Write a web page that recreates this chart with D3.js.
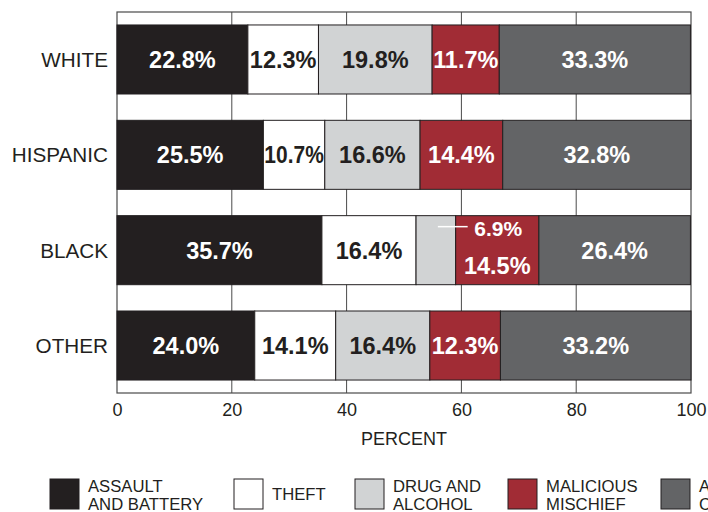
<!DOCTYPE html>
<html>
<head>
<meta charset="utf-8">
<script src="https://cdn.jsdelivr.net/npm/d3@7"></script>
<style>
  html, body { margin: 0; padding: 0; background: #fff; }
  svg { display: block; font-family: "Liberation Sans", Arial, sans-serif; }
</style>
</head>
<body>
<svg id="chart" width="708" height="512"></svg>
<script>
// ---- data ----
const groups = ["WHITE", "HISPANIC", "BLACK", "OTHER"];
const series = ["ASSAULT AND BATTERY", "THEFT", "DRUG AND ALCOHOL", "MALICIOUS MISCHIEF", "ALL OTHER CRIMES"];
const legendLines = [["ASSAULT", "AND BATTERY"], ["THEFT"], ["DRUG AND", "ALCOHOL"], ["MALICIOUS", "MISCHIEF"], ["ALL OTHER", "CRIMES"]];
const assault   = [22.8, 25.5, 35.7, 24.0];
const theft     = [12.3, 10.7, 16.4, 14.1];
const drug      = [19.8, 16.6, 6.9, 16.4];
const mischief  = [11.7, 14.4, 14.5, 12.3];
const allOther  = [33.3, 32.8, 26.4, 33.2];
const xTicks = [0, 20, 40, 60, 80, 100];
const colors = ["#231f20", "#ffffff", "#d1d3d4", "#a12c35", "#636466"];
const labelColors = ["#ffffff", "#231f20", "#231f20", "#ffffff", "#ffffff"];

const valueCols = [assault, theft, drug, mischief, allOther];
const rows = groups.map((g, i) => {
  const r = { group: g };
  series.forEach((s, j) => r[s] = valueCols[j][i]);
  return r;
});

const svg = d3.select("#chart");
const L = 117, R = 691, T = 12, B = 393;
const x = d3.scaleLinear().domain([0, 100]).range([L, R]);
const y = d3.scaleBand().domain(groups).range([T, B]).paddingInner(0.276).paddingOuter(0.136);
const ink = "#231f20";
const frame = "#4a4a4a";

// grid lines
svg.append("g").selectAll("line").data(xTicks.slice(1, -1)).join("line")
  .attr("x1", d => x(d)).attr("x2", d => x(d)).attr("y1", T).attr("y2", B)
  .attr("stroke", frame).attr("stroke-width", 1);

// frame
svg.append("rect").attr("x", L).attr("y", T).attr("width", R - L).attr("height", B - T)
  .attr("fill", "none").attr("stroke", frame).attr("stroke-width", 1.2);

// stacked bars
const stack = d3.stack().keys(series)(rows);
const layers = svg.append("g").selectAll("g").data(stack).join("g")
  .attr("fill", (d, i) => colors[i]);
layers.selectAll("rect").data(d => d).join("rect")
  .attr("x", d => x(d[0]))
  .attr("y", d => y(d.data.group))
  .attr("width", d => x(d[1]) - x(d[0]))
  .attr("height", y.bandwidth())
  .attr("stroke", ink).attr("stroke-width", 1);

// value labels
const lab = svg.append("g").attr("font-weight", "bold").attr("font-size", 23.5);
stack.forEach((layer, i) => {
  layer.forEach(d => {
    const g = d.data.group;
    const v = d[1] - d[0];
    const txt = v.toFixed(1) + "%";
    const cx = (x(d[0]) + x(d[1])) / 2;
    const cy = y(g) + y.bandwidth() / 2;
    const segW = x(d[1]) - x(d[0]);
    if (segW < 50) {
      // small segment: label placed into the next segment with a leader line
      const nx = stack[i + 1][groups.indexOf(g)];
      const tcx = (x(nx[0]) + x(nx[1])) / 2;
      const ty = y(g) + 13;
      lab.append("line").attr("x1", cx + 2).attr("x2", x(nx[0]) + 12)
        .attr("y1", ty - 2).attr("y2", ty - 2)
        .attr("stroke", "#fff").attr("stroke-width", 1.5);
      lab.append("text").attr("x", tcx + 1).attr("y", ty).attr("dy", "0.35em")
        .attr("text-anchor", "middle").attr("font-size", 21).attr("fill", "#fff").text(txt);
      return;
    }
    let yy = cy;
    if (i > 0 && (stack[i - 1][groups.indexOf(g)][1] - stack[i - 1][groups.indexOf(g)][0]) * (R - L) / 100 < 50) yy = cy + 15;
    const t = lab.append("text").attr("x", cx).attr("y", yy).attr("dy", "0.36em")
      .attr("text-anchor", "middle").attr("fill", labelColors[i]).text(txt);
    const w = t.node().getComputedTextLength();
    if (w > segW - 2) t.attr("textLength", segW - 2).attr("lengthAdjust", "spacingAndGlyphs");
  });
});

// y axis labels
svg.append("g").selectAll("text").data(groups).join("text")
  .attr("x", 108).attr("y", d => y(d) + y.bandwidth() / 2).attr("dy", "0.36em")
  .attr("text-anchor", "end").attr("font-size", 20.7).attr("fill", ink).text(d => d);

// x axis tick labels
const xAxis = d3.axisBottom(x).tickValues(xTicks).tickSize(0).tickPadding(0).tickFormat(d3.format("d"));
const xg = svg.append("g").attr("transform", `translate(0,${B})`).call(xAxis);
xg.select(".domain").remove();
xg.selectAll("text").attr("y", 23).attr("dy", 0).attr("font-size", 18).attr("fill", ink)
  .attr("font-family", "Liberation Sans, Arial, sans-serif");

svg.append("text").attr("x", (L + R) / 2).attr("y", 445).attr("text-anchor", "middle")
  .attr("font-size", 18).attr("fill", ink).text("PERCENT");

// legend
const legX = [50, 234, 355, 508, 661];
const leg = svg.append("g").selectAll("g").data(series).join("g")
  .attr("transform", (d, i) => `translate(${legX[i]},479)`);
leg.append("rect").attr("width", 29).attr("height", 30)
  .attr("fill", (d, i) => colors[i]).attr("stroke", ink).attr("stroke-width", 1);
leg.each(function(d, i) {
  const lines = legendLines[i];
  const g = d3.select(this);
  lines.forEach((ln, k) => {
    const yy = lines.length === 1 ? 21 : 13 + k * 18;
    g.append("text").attr("transform", `translate(38,${yy}) scale(0.98,1)`)
      .attr("font-size", 17).attr("fill", ink).text(ln);
  });
});
</script>
</body>
</html>
